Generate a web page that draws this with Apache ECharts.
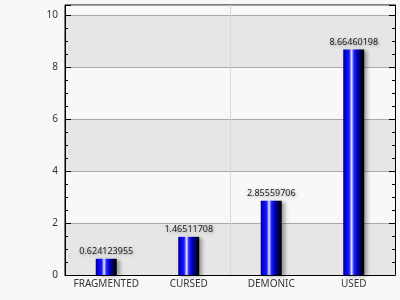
<!DOCTYPE html>
<html>
<head>
<meta charset="utf-8">
<script src="https://cdn.jsdelivr.net/npm/echarts@6/dist/echarts.min.js"></script>
<style>html,body{margin:0;padding:0;background:#f8f8f8}#c{width:400px;height:300px}</style>
</head>
<body>
<div id="c"></div>
<script>
var categories = ['FRAGMENTED', 'CURSED', 'DEMONIC', 'USED'];
var values = [0.624123955, 1.46511708, 2.85559706, 8.66460198];
var valueLabels = ['0.624123955', '1.46511708', '2.85559706', '8.66460198'];

var chart = echarts.init(document.getElementById('c'), null, {renderer: 'canvas'});
var FONT = 'Noto Sans';
var barGrad = new echarts.graphic.LinearGradient(0, 0, 1, 0, [
  {offset: 0, color: '#000060'},
  {offset: 0.08, color: '#0000d8'},
  {offset: 0.28, color: '#1818ff'},
  {offset: 0.40, color: '#e8e8ff'},
  {offset: 0.50, color: '#2828ff'},
  {offset: 0.65, color: '#0000c8'},
  {offset: 0.85, color: '#000040'},
  {offset: 1, color: '#000000'}
]);
var YMAX = 10.38;
chart.setOption({
  backgroundColor: '#f8f8f8',
  animation: false,
  grid: {left: 65, right: 5, top: 5, bottom: 25, show: true, borderColor: '#000', borderWidth: 1, backgroundColor: 'transparent'},
  xAxis: [{
    type: 'category',
    data: categories,
    axisLine: {lineStyle: {color: '#000', width: 1}},
    axisTick: {show: false},
    axisLabel: {color: '#333', fontFamily: FONT, fontSize: 10, margin: 4, interval: 0},
    splitLine: {show: false}
  }, {
    type: 'value', min: 0, max: 2, interval: 1, position: 'top',
    axisLine: {show: false}, axisTick: {show: false}, axisLabel: {show: false},
    splitLine: {show: true, lineStyle: {color: '#d8d8d8', width: 1}}
  }],
  yAxis: [{
    type: 'value', min: 0, max: YMAX, interval: 2,
    axisLine: {show: true, lineStyle: {color: '#000', width: 1}},
    axisTick: {show: true, inside: true, length: 6, lineStyle: {color: '#000'}},
    minorTick: {show: true, splitNumber: 4, length: 3, lineStyle: {color: '#000'}},
    axisLabel: {color: '#333', fontFamily: FONT, fontSize: 10, margin: 7, showMaxLabel: false},
    splitLine: {show: true, lineStyle: {color: '#a8a8a8', width: 1}},
    splitArea: {show: true, areaStyle: {color: ['#e6e6e6', '#f8f8f8']}}
  }, {
    type: 'value', min: 0, max: YMAX, interval: 2, position: 'right',
    axisLine: {show: true, lineStyle: {color: '#000', width: 1}},
    axisTick: {show: true, inside: true, length: 6, lineStyle: {color: '#000'}},
    minorTick: {show: true, splitNumber: 4, length: 3, lineStyle: {color: '#000'}},
    axisLabel: {show: false},
    splitLine: {show: false}
  }],
  series: [{
    type: 'bar',
    data: values,
    barWidth: 21,
    itemStyle: {color: barGrad, shadowColor: 'rgba(0,0,0,0.35)', shadowBlur: 4, shadowOffsetX: 3, shadowOffsetY: 1},
    label: {
      show: true, position: 'top', distance: 3,
      formatter: function (p) { return valueLabels[p.dataIndex]; },
      color: '#222', fontFamily: FONT, fontSize: 9,
      textShadowColor: 'rgba(0,0,0,0.35)', textShadowBlur: 3, textShadowOffsetX: 1, textShadowOffsetY: 1
    }
  }]
});
</script>
</body>
</html>
